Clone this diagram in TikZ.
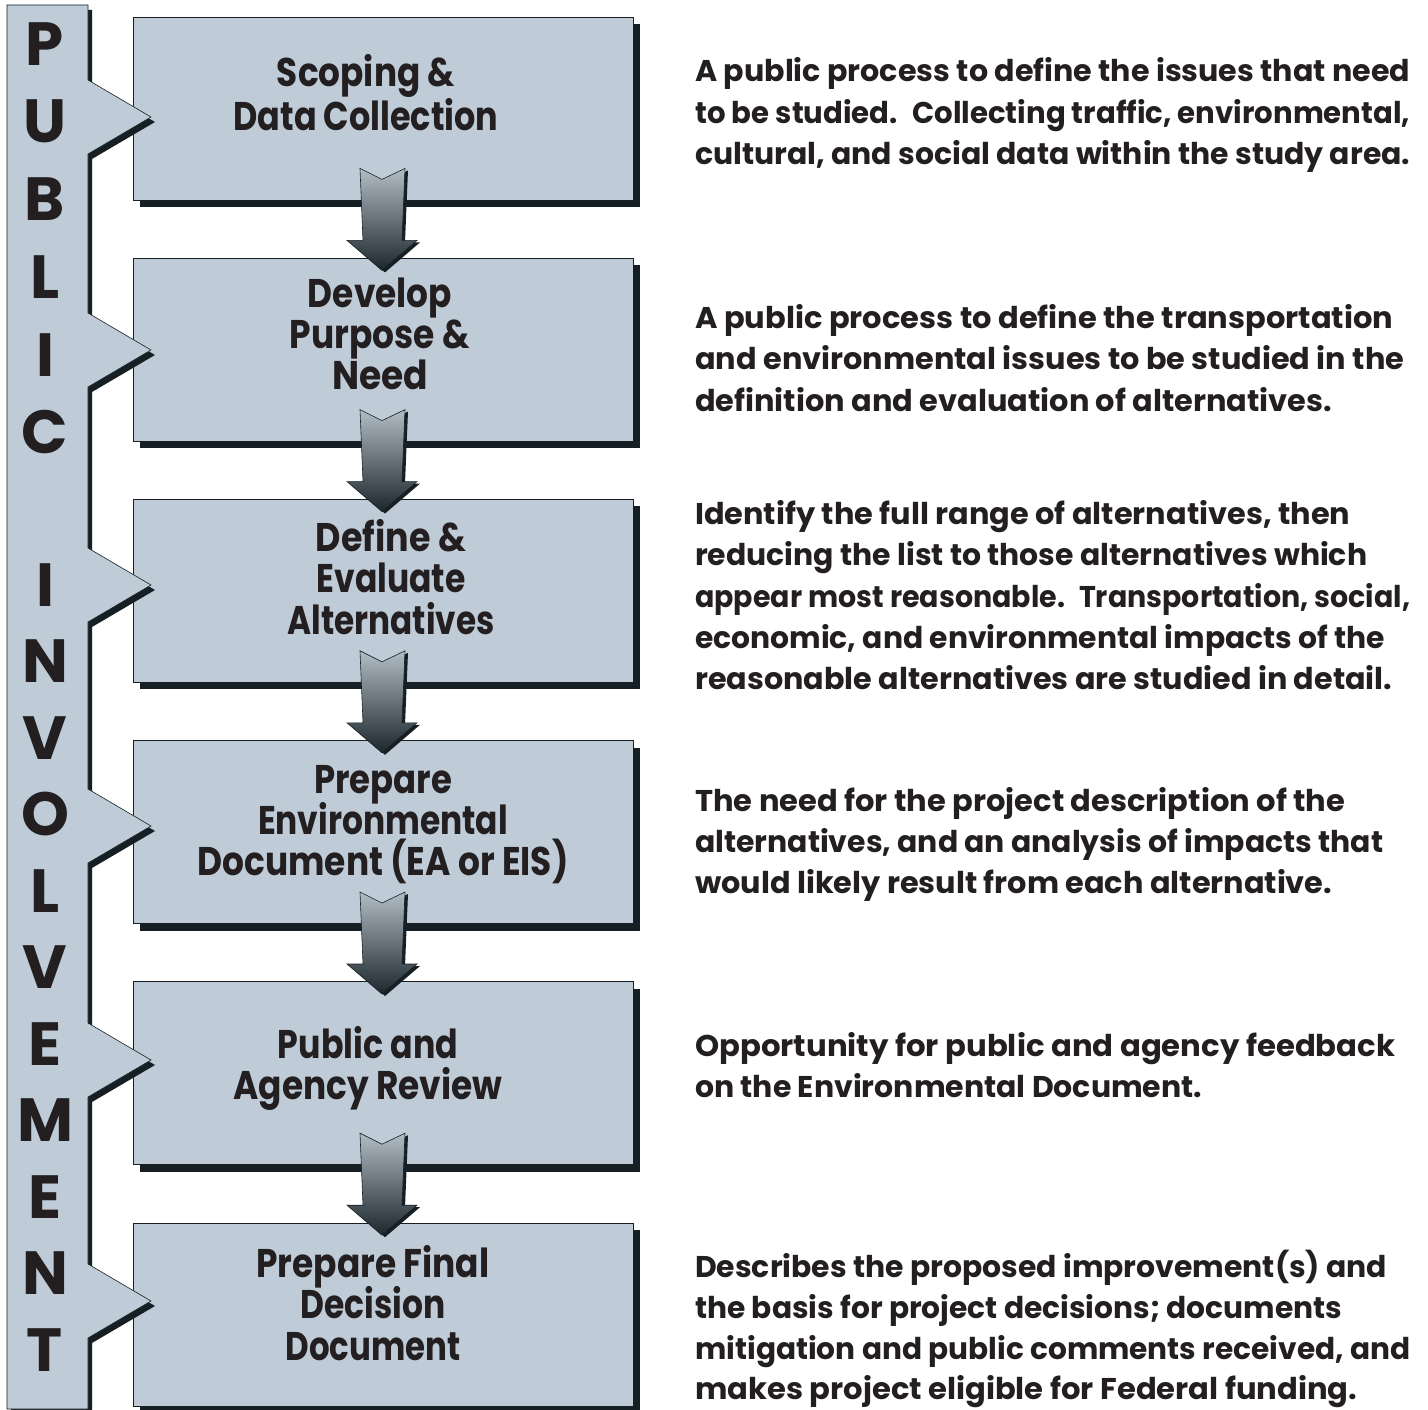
\documentclass[tikz,border=0pt]{standalone}
\usepackage{fontspec}
\setmainfont{Poppins}
\usepackage{graphicx}
\usetikzlibrary{calc,shadows}
\definecolor{boxfill}{RGB}{191,204,216}
\definecolor{shadowc}{RGB}{22,32,36}
\definecolor{txt}{RGB}{35,31,32}
\definecolor{arrtop}{RGB}{178,188,197}
\definecolor{arrbot}{RGB}{28,38,44}
\newcommand\fitto[2]{\resizebox{#1pt}{\height}{#2}}
\begin{document}
\begin{tikzpicture}[x=1pt,y=-1pt,
  box/.style={draw=shadowc, line width=0.8pt, fill=boxfill, minimum width=500pt,
    minimum height=183pt, inner sep=0pt,
    general shadow={fill=shadowc, shadow xshift=7pt, shadow yshift=-7pt}},
  boxtext/.style={anchor=base, inner sep=0pt, text=txt, font=\fontsize{40}{44}\selectfont\bfseries},
  desc/.style={anchor=base west, inner sep=0pt, text=txt, font=\fontsize{30}{41}\selectfont\bfseries},
  letter/.style={anchor=base, inner sep=0pt, text=txt, font=\fontsize{61}{61}\selectfont\bfseries},
  bararrow/.style={draw=shadowc, line width=0.6pt, top color=arrtop, bottom color=arrbot,
    general shadow={fill=shadowc, shadow xshift=3pt, shadow yshift=-2pt}}
]
\useasboundingbox (0,0) rectangle (1428,1410);
\fill[white] (0,0) rectangle (1428,1410);

% boxes
\node[box] (b1) at (383,108.5) {};
\node[box] (b2) at (383,349.7) {};
\node[box] (b3) at (383,590.9) {};
\node[box] (b4) at (383,832.1) {};
\node[box] (b5) at (383,1073.3) {};
\node[box] (b6) at (383,1314.5) {};

% block arrows between boxes
\foreach \b in {b1,b2,b3,b4,b5}{
  \path[bararrow]
    ($(\b.south)+(-23,-32)$) -- ($(\b.south)+(-1,-21)$) -- ($(\b.south)+(22,-32)$)
    -- ($(\b.south)+(19,40)$) -- ($(\b.south)+(34,40)$) -- ($(\b.south)+(-1,70)$)
    -- ($(\b.south)+(-36,40)$) -- ($(\b.south)+(-20,40)$) -- cycle;
}

% public involvement bar (drawn over the boxes' left edges)
\begin{scope}
\clip (0,0) rectangle (1428,1410);
\draw[draw=shadowc, line width=0.6pt, fill=boxfill,
  general shadow={fill=shadowc, shadow xshift=4pt, shadow yshift=-5pt}]
  (7,5) -- (88,5)
  -- (88,80) -- (151,117) -- (88,154)
  -- (88,313) -- (151,350) -- (88,387)
  -- (88,548) -- (151,585) -- (88,622)
  -- (88,789) -- (151,826) -- (88,863)
  -- (88,1023) -- (151,1060) -- (88,1097)
  -- (88,1264) -- (151,1301) -- (88,1338)
  -- (88,1409) -- (7,1409) -- cycle;
\end{scope}

% letters
\node[letter] (lP) at (45,66) {P};
\node[letter] (lU) at (45,143) {U};
\node[letter] (lB) at (45,221) {B};
\node[letter] (lL) at (45,298) {L};
\node[letter] (lI) at (45,376) {I};
\node[letter] (lC) at (45,453) {C};
\node[letter] (lI2) at (45,606) {I};
\node[letter] (lN) at (45,682) {N};
\node[letter] (lV) at (45,759) {V};
\node[letter] (lO) at (45,835) {O};
\node[letter] (lL2) at (45,912) {L};
\node[letter] (lV2) at (45,988) {V};
\node[letter] (lE) at (45,1065) {E};
\node[letter] (lM) at (45,1141) {M};
\node[letter] (lE2) at (45,1218) {E};
\node[letter] (lN2) at (45,1294) {N};
\node[letter] (lT) at (45,1371) {T};

% box texts
\node[boxtext] (t1a) at (366,87) {\fitto{178}{Scoping \&}};
\node[boxtext] (t1b) at (366,131) {\fitto{265}{Data Collection}};
\node[boxtext] (t2a) at (380,307) {\fitto{144}{Develop}};
\node[boxtext] (t2b) at (380,348) {\fitto{180}{Purpose \&}};
\node[boxtext] (t2c) at (380,389) {\fitto{96}{Need}};
\node[boxtext] (t3a) at (391,551) {\fitto{150}{Define \&}};
\node[boxtext] (t3b) at (391,592) {\fitto{149}{Evaluate}};
\node[boxtext] (t3c) at (391,634) {\fitto{207}{Alternatives}};
\node[boxtext] (t4a) at (383,793) {\fitto{138}{Prepare}};
\node[boxtext] (t4b) at (383,834) {\fitto{250}{Environmental}};
\node[boxtext] (t4c) at (383,875) {\fitto{371}{Document (EA or EIS)}};
\node[boxtext] (t5a) at (368,1058) {\fitto{180}{Public and}};
\node[boxtext] (t5b) at (368,1099) {\fitto{269}{Agency Review}};
\node[boxtext] (t6a) at (373,1277) {\fitto{233}{Prepare Final}};
\node[boxtext] (t6b) at (373,1318) {\fitto{145}{Decision}};
\node[boxtext] (t6c) at (373,1360) {\fitto{175}{Document}};

% descriptions
\node[desc] (d1a) at (695,82) {\fitto{715}{A public process to define the issues that need}};
\node[desc] (d1b) at (695,123.5) {\fitto{715}{to be studied.~ Collecting traffic, environmental,}};
\node[desc] (d1c) at (695,165) {\fitto{715}{cultural, and social data within the study area.}};

\node[desc] (d2a) at (695,328) {\fitto{698}{A public process to define the transportation}};
\node[desc] (d2b) at (695,369) {\fitto{709}{and environmental issues to be studied in the}};
\node[desc] (d2c) at (695,411) {\fitto{637}{definition and evaluation of alternatives.}};

\node[desc] (d3a) at (695,524) {\fitto{655}{Identify the full range of alternatives, then}};
\node[desc] (d3b) at (695,565) {\fitto{672}{reducing the list to those alternatives which}};
\node[desc] (d3c) at (695,607) {\fitto{715}{appear most reasonable.~ Transportation, social,}};
\node[desc] (d3d) at (695,648) {\fitto{690}{economic, and environmental impacts of the}};
\node[desc] (d3e) at (695,689) {\fitto{697}{reasonable alternatives are studied in detail.}};

\node[desc] (d4a) at (695,811) {\fitto{650}{The need for the project description of the}};
\node[desc] (d4b) at (695,852) {\fitto{688}{alternatives, and an analysis of impacts that}};
\node[desc] (d4c) at (695,893) {\fitto{637}{would likely result from each alternative.}};

\node[desc] (d5a) at (695,1056) {\fitto{700}{Opportunity for public and agency feedback}};
\node[desc] (d5b) at (695,1097) {\fitto{507}{on the Environmental Document.}};

\node[desc] (d6a) at (695,1277) {\fitto{692}{Describes the proposed improvement(s) and}};
\node[desc] (d6b) at (695,1318) {\fitto{647}{the basis for project decisions; documents}};
\node[desc] (d6c) at (695,1359) {\fitto{715}{mitigation and public comments received, and}};
\node[desc] (d6d) at (695,1399) {\fitto{662}{makes project eligible for Federal funding.}};
\end{tikzpicture}
\end{document}
